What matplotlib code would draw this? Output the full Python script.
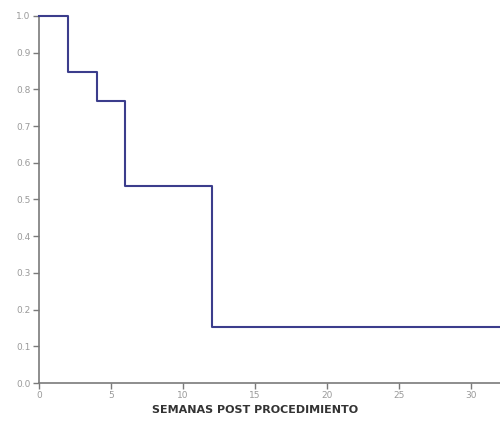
import matplotlib
matplotlib.use("Agg")
import matplotlib.pyplot as plt

# Kaplan-Meier style survival steps
weeks = [0, 2, 4, 6, 12, 32]
survival = [1.0, 0.846, 0.769, 0.538, 0.154, 0.154]

x_ticks = [0, 5, 10, 15, 20, 25, 30]
y_ticks = [0.0, 0.1, 0.2, 0.3, 0.4, 0.5, 0.6, 0.7, 0.8, 0.9, 1.0]
x_label = "SEMANAS POST PROCEDIMIENTO"

fig = plt.figure(figsize=(5.0, 4.29), dpi=100)
ax = fig.add_axes([0.078, 0.107, 0.922, 0.856])

ax.step(weeks, survival, where="post", color="#3b3d8c", linewidth=1.5,
        clip_on=False, zorder=3)

ax.set_xlim(0, 32)
ax.set_ylim(0, 1.0)
ax.set_xticks(x_ticks)
ax.set_yticks(y_ticks)
ax.set_yticklabels([f"{v:.1f}" for v in y_ticks])

for side in ("top", "right"):
    ax.spines[side].set_visible(False)
for side in ("left", "bottom"):
    ax.spines[side].set_color("#7a7a7a")
    ax.spines[side].set_linewidth(1.2)

ax.tick_params(axis="both", colors="#7a7a7a", labelcolor="#9a9a9a",
               labelsize=6.5, length=4, width=1.0, direction="out", pad=2)

fig.text(0.51, 0.045, x_label, ha="center", va="center",
         fontsize=8, fontweight="bold", color="#333333")

fig.savefig("out.png", dpi=100, facecolor="white")
